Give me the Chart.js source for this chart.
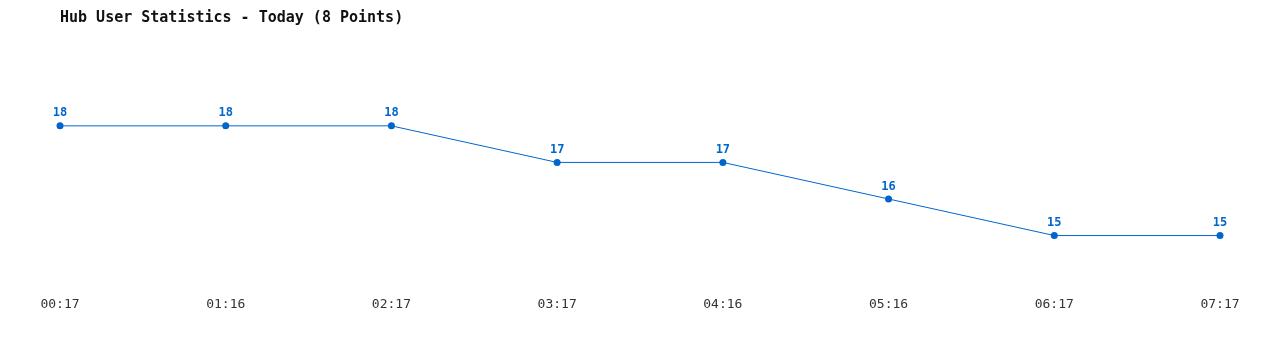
<!DOCTYPE html>
<html>
<head>
<meta charset="utf-8">
<script src="https://cdn.jsdelivr.net/npm/chart.js@4/dist/chart.umd.min.js"></script>
<style>
  html, body { margin: 0; padding: 0; background: #fff; }
  #wrap { width: 1280px; height: 350px; }
</style>
</head>
<body>
<div id="wrap"><canvas id="chart"></canvas></div>
<script>
const title = "Hub User Statistics - Today (8 Points)";
const times = ["00:17", "01:16", "02:17", "03:17", "04:16", "05:16", "06:17", "07:17"];
const users = [18, 18, 18, 17, 17, 16, 15, 15];

const blue = "#0066cc";
const mono = "'DejaVu Sans Mono', 'Liberation Mono', monospace";

// draws the value above each point
const pointLabels = {
  id: "pointLabels",
  afterDatasetsDraw(chart) {
    const ctx = chart.ctx;
    const meta = chart.getDatasetMeta(0);
    ctx.save();
    ctx.font = "bold 12px " + mono;
    ctx.fillStyle = blue;
    ctx.textAlign = "center";
    ctx.textBaseline = "middle";
    meta.data.forEach((pt, i) => {
      ctx.fillText(String(users[i]), pt.x, pt.y - 12.5);
    });
    ctx.restore();
  },
};

new Chart(document.getElementById("chart"), {
  type: "line",
  data: {
    labels: times,
    datasets: [
      {
        data: users,
        borderColor: blue,
        backgroundColor: blue,
        borderWidth: 1,
        pointRadius: 3.5,
        pointBorderWidth: 0,
        tension: 0,
      },
    ],
  },
  options: {
    responsive: true,
    maintainAspectRatio: false,
    animation: false,
    layout: { padding: { left: 60, right: 60, top: 0, bottom: 32 } },
    plugins: {
      legend: { display: false },
      tooltip: { enabled: false },
      title: {
        display: true,
        text: title,
        align: "start",
        color: "#111",
        font: { family: mono, size: 15, weight: "bold" },
        padding: { top: 9, bottom: 44 },
      },
    },
    scales: {
      x: {
        offset: false,
        grid: { display: false, drawTicks: false },
        border: { display: false },
        ticks: {
          color: "#333",
          padding: 6,
          maxRotation: 0,
          autoSkip: false,
          font: { family: mono, size: 13 },
        },
      },
      y: { display: false, min: 13.5, max: 19.5 },
    },
  },
  plugins: [pointLabels],
});
</script>
</body>
</html>
